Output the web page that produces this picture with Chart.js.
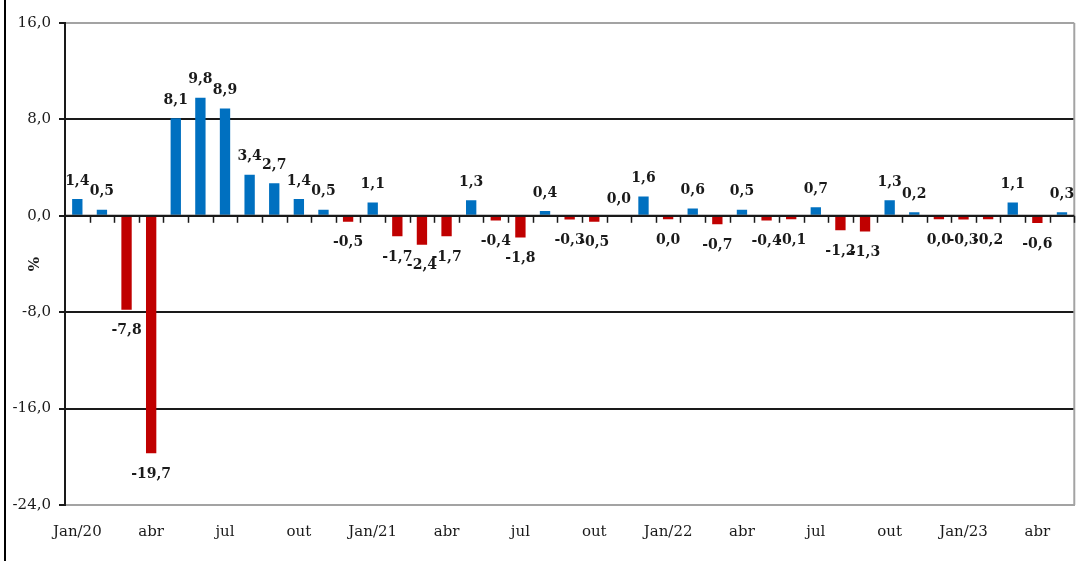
<!DOCTYPE html>
<html>
<head>
<meta charset="utf-8">
<script src="https://cdn.jsdelivr.net/npm/chart.js@4"></script>
<style>
  body { margin: 0; background: #fff; }
  canvas { display: block; }
</style>
</head>
<body>
<canvas id="chart" width="1080" height="561"></canvas>
<script>
// months Jan/20 .. mai/23, only every third label is shown on the axis
const months = [
    'Jan/20', 'fev', 'mar', 'abr', 'mai', 'jun', 'jul', 'ago', 'set', 'out', 'nov', 'dez',
    'Jan/21', 'fev', 'mar', 'abr', 'mai', 'jun', 'jul', 'ago', 'set', 'out', 'nov', 'dez',
    'Jan/22', 'fev', 'mar', 'abr', 'mai', 'jun', 'jul', 'ago', 'set', 'out', 'nov', 'dez',
    'Jan/23', 'fev', 'mar', 'abr', 'mai'
];

// monthly variation (%)
const variation = [
    1.4, 0.5, -7.8, -19.7, 8.1, 9.8, 8.9, 3.4, 2.7, 1.4, 0.5, -0.5,
    1.1, -1.7, -2.4, -1.7, 1.3, -0.4, -1.8, 0.4, -0.3, -0.5, 0.0, 1.6,
    -0.04, 0.6, -0.7, 0.5, -0.4, -0.1, 0.7, -1.2, -1.3, 1.3, 0.2, -0.04,
    -0.3, -0.2, 1.1, -0.6, 0.3
];

const yTicks = [16, 8, 0, -8, -16, -24];

const BLUE = '#0070C0';
const RED = '#C00000';
const GRAY = '#a3a3a3';
const INK = '#1a1a1a';

const fmt = v => (Math.round(v * 10) / 10).toFixed(1).replace('.', ',');

// data labels, plot frame, tick marks on the zero line and the "%" title
const decorations = {
    id: 'decorations',
    beforeDatasetsDraw(chart) {
        const { ctx, chartArea } = chart;
        ctx.save();
        ctx.strokeStyle = GRAY;
        ctx.lineWidth = 2;
        ctx.beginPath();
        ctx.moveTo(chartArea.right, chartArea.top);
        ctx.lineTo(chartArea.right, chartArea.bottom);
        ctx.stroke();
        ctx.restore();
    },
    afterDatasetsDraw(chart) {
        const { ctx, chartArea, scales } = chart;
        const x = scales.x;
        const y0 = scales.y.getPixelForValue(0);
        ctx.save();

        // zero axis line with small category ticks
        ctx.strokeStyle = INK;
        ctx.lineWidth = 2;
        ctx.beginPath();
        ctx.moveTo(chartArea.left, y0);
        ctx.lineTo(chartArea.right, y0);
        ctx.stroke();
        ctx.lineWidth = 1.5;
        const step = x.getPixelForValue(1) - x.getPixelForValue(0);
        for (let i = 1; i <= months.length; i++) {
            const px = Math.round(x.getPixelForValue(i) - step / 2) + 0.5;
            ctx.beginPath();
            ctx.moveTo(px, y0);
            ctx.lineTo(px, y0 + 7);
            ctx.stroke();
        }

        // value labels
        ctx.font = 'bold 14px "DejaVu Serif"';
        ctx.fillStyle = INK;
        ctx.textAlign = 'center';
        ctx.textBaseline = 'middle';
        chart.getDatasetMeta(0).data.forEach((bar, i) => {
            const v = variation[i];
            const ly = v >= 0 ? bar.y - 18 : bar.y + 21;
            ctx.fillText(fmt(v), bar.x, ly);
        });

        // axis title
        ctx.font = 'bold 15px "DejaVu Serif"';
        ctx.translate(35, (chartArea.top + chartArea.bottom) / 2);
        ctx.rotate(-Math.PI / 2);
        ctx.fillText('%', 0, 0);
        ctx.restore();

        // left frame line of the picture
        ctx.save();
        ctx.fillStyle = '#000';
        ctx.fillRect(4, 0, 2, chart.height);
        ctx.restore();
    }
};

new Chart(document.getElementById('chart'), {
    type: 'bar',
    data: {
        labels: months,
        datasets: [{
            data: variation,
            backgroundColor: variation.map(v => v === 0 ? 'rgba(0,0,0,0)' : (v > 0 ? BLUE : RED)),
            borderWidth: 0,
            minBarLength: 3.5,
            barPercentage: 0.42,
            categoryPercentage: 1.0
        }]
    },
    options: {
        responsive: false,
        devicePixelRatio: 1,
        animation: false,
        layout: {
            padding: { left: 0, top: 23, right: 2, bottom: 0 }
        },
        plugins: {
            legend: { display: false },
            tooltip: { enabled: false }
        },
        scales: {
            x: {
                offset: true,
                grid: { display: false, drawTicks: false },
                border: { display: true, color: GRAY, width: 2 },
                ticks: {
                    autoSkip: false,
                    maxRotation: 0,
                    padding: 18,
                    color: INK,
                    font: { family: 'DejaVu Serif', size: 15 },
                    callback: (val, index) => index % 3 === 0 ? months[index] : ''
                },
                afterFit: scale => { scale.height = 56; }
            },
            y: {
                min: yTicks[yTicks.length - 1],
                max: yTicks[0],
                afterBuildTicks: scale => {
                    scale.ticks = yTicks.map(v => ({ value: v }));
                },
                grid: {
                    color: ctx => (ctx.tick && (ctx.tick.value === 16 || ctx.tick.value === -24)) ? GRAY : INK,
                    lineWidth: 2,
                    tickLength: 6,
                    tickColor: INK
                },
                border: { display: true, color: INK, width: 2 },
                ticks: {
                    padding: 8,
                    color: INK,
                    font: { family: 'DejaVu Serif', size: 15 },
                    callback: v => fmt(v)
                },
                afterFit: scale => { scale.width = 65; }
            }
        }
    },
    plugins: [decorations]
});
</script>
</body>
</html>
